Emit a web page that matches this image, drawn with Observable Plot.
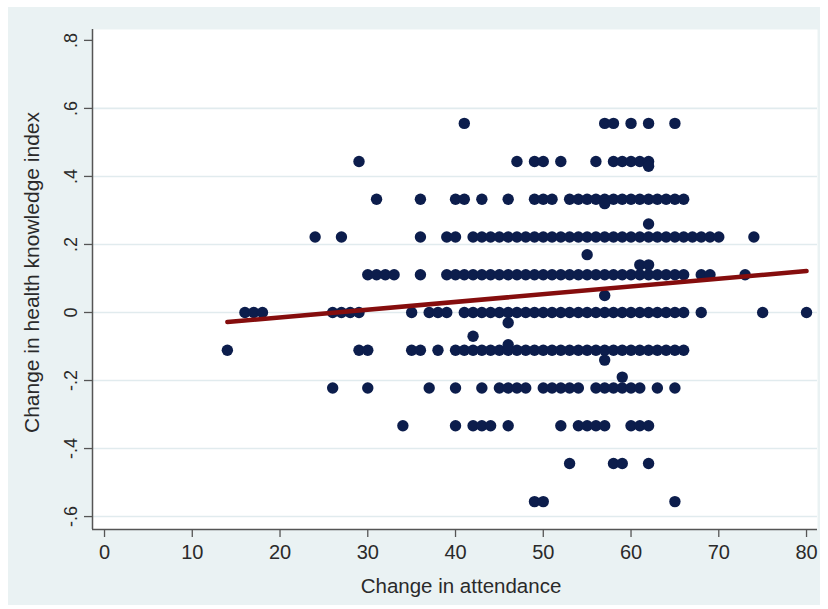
<!DOCTYPE html>
<html><head><meta charset="utf-8">
<script src="https://cdn.jsdelivr.net/npm/d3@7"></script>
<script src="https://cdn.jsdelivr.net/npm/@observablehq/plot@0.6"></script>
<style>
html,body{margin:0;padding:0;background:#fff;}
#panel{position:absolute;left:8px;top:7px;width:812px;height:598px;background:#eaf2f3;}
#panel svg{display:block;}
</style></head><body><div id="panel"></div>
<script>
// y levels (change in health knowledge index) and the attendance changes observed at each level
const row556 = [41, 57, 58, 60, 62, 65];
const row444 = [29, 47, 49, 50, 52, 56, 58, 59, 60, 61, 62];
const row333 = [31, 36, 40, 41, 43, 46, 49, 50, 51, 53, 54, 55, 56, 57, 58, 59, 60, 61, 62, 63, 64, 65, 66];
const row222 = [24, 27, 36, 39, 40, 42, 43, 44, 45, 46, 47, 48, 49, 50, 51, 52, 53, 54, 55, 56, 57, 58, 59, 60, 61, 62, 63, 64, 65, 66, 67, 68, 69, 70, 74];
const row111 = [30, 31, 32, 33, 36, 39, 40, 41, 42, 43, 44, 45, 46, 47, 48, 49, 50, 51, 52, 53, 54, 55, 56, 57, 58, 59, 60, 61, 62, 63, 64, 65, 66, 68, 69, 73];
const row000 = [16, 17, 18, 26, 27, 28, 29, 35, 37, 38, 39, 41, 42, 43, 44, 45, 46, 47, 48, 49, 50, 51, 52, 53, 54, 55, 56, 57, 58, 59, 60, 61, 62, 63, 64, 65, 66, 68, 75, 80];
const rowM111 = [14, 29, 30, 35, 36, 38, 40, 41, 42, 43, 44, 45, 46, 47, 48, 49, 50, 51, 52, 53, 54, 55, 56, 57, 58, 59, 60, 61, 62, 63, 64, 65, 66];
const rowM222 = [26, 30, 37, 40, 43, 45, 46, 47, 48, 50, 51, 52, 53, 54, 56, 57, 58, 59, 60, 61, 63, 65];
const rowM333 = [34, 40, 42, 43, 44, 46, 52, 54, 55, 56, 57, 60, 61, 62];
const rowM444 = [53, 58, 59, 62];
const rowM556 = [49, 50, 65];
const rowLevels = [0.556, 0.444, 0.333, 0.222, 0.111, 0, -0.111, -0.222, -0.333, -0.444, -0.556];
// odd points not on the ninths
const extraX = [62, 57, 62, 55, 61, 62, 57, 46, 42, 46, 57, 59];
const extraY = [0.43, 0.32, 0.26, 0.17, 0.14, 0.14, 0.05, -0.03, -0.07, -0.095, -0.14, -0.19];
// fitted line end points
const trendX = [14, 80];
const trendY = [-0.028, 0.122];
// ticks
const xTicks = [0, 10, 20, 30, 40, 50, 60, 70, 80];
const yTicks = [-0.6, -0.4, -0.2, 0, 0.2, 0.4, 0.6, 0.8];
const yTickLabels = ["-.6", "-.4", "-.2", "0", ".2", ".4", ".6", ".8"];
const yGrid = [-0.6, -0.4, -0.2, 0, 0.2, 0.4, 0.6];
const xTitle = "Change in attendance";
const yTitle = "Change in health knowledge index";

const rows = [row556, row444, row333, row222, row111, row000, rowM111, rowM222, rowM333, rowM444, rowM556];
const points = [];
rows.forEach((r, i) => r.forEach(x => points.push({x, y: rowLevels[i]})));
extraX.forEach((x, i) => points.push({x, y: extraY[i]}));
const trend = trendX.map((x, i) => ({x, y: trendY[i]}));
const yLab = new Map(yTicks.map((t, i) => [t, yTickLabels[i]]));

const xDom = [-1.37, 81.25], yDom = [-0.638, 0.832];
const ink = "#2a2a2a";
const chart = Plot.plot({
  width: 812, height: 598,
  marginLeft: 84, marginRight: 3, marginTop: 22, marginBottom: 76,
  style: {background: "transparent", fontFamily: "'Liberation Sans', Arial, sans-serif", color: ink},
  x: {domain: xDom},
  y: {domain: yDom},
  marks: [
    Plot.frame({fill: "white", stroke: null}),
    Plot.gridY(yGrid, {stroke: "#e1ebee", strokeOpacity: 1, strokeWidth: 1.6}),
    Plot.ruleX([xDom[0]], {stroke: "#555", strokeWidth: 1.5}),
    Plot.ruleY([yDom[0]], {stroke: "#555", strokeWidth: 1.5}),
    Plot.axisY(yTicks, {anchor: "left", tickSize: 8, tickPadding: 8, tickRotate: -90, tickFormat: d => yLab.get(d), fontSize: 18, stroke: "#555", strokeWidth: 1.3, fill: ink, label: null}),
    Plot.axisX(xTicks, {anchor: "bottom", tickSize: 8, tickPadding: 7, fontSize: 20, stroke: "#555", strokeWidth: 1.3, fill: ink, label: null}),
    Plot.text([xTitle], {frameAnchor: "bottom", dy: 57, dx: 6, fontSize: 20.5, fill: ink, lineAnchor: "middle", textAnchor: "middle"}),
    Plot.text([yTitle], {frameAnchor: "left", rotate: -90, dx: -60, dy: -7, fontSize: 21, fill: ink, lineAnchor: "middle", textAnchor: "middle"}),
    Plot.dot(points, {x: "x", y: "y", r: 5.7, fill: "#0c1d4c", stroke: null}),
    Plot.line(trend, {x: "x", y: "y", stroke: "#850d0d", strokeWidth: 4.5})
  ]
});
document.getElementById("panel").appendChild(chart);
</script></body></html>
